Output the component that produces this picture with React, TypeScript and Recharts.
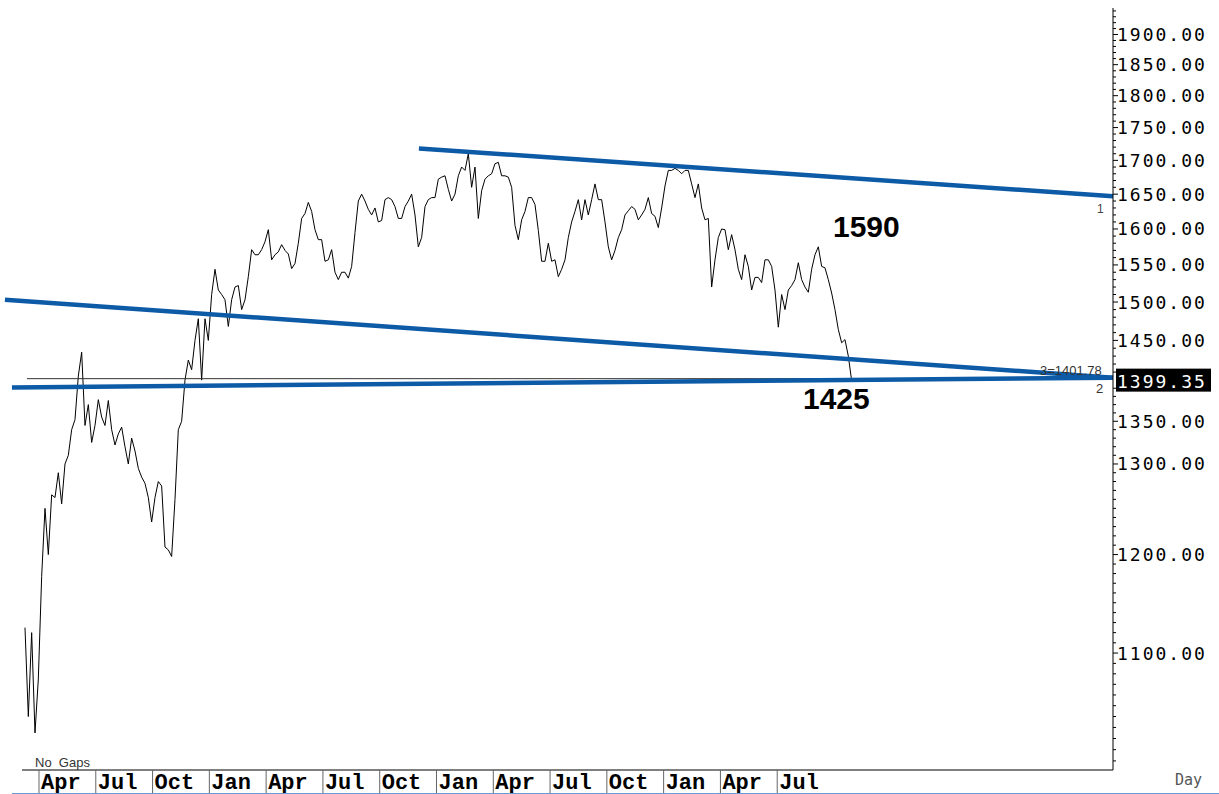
import React from 'react';
import { LineChart, Line, XAxis, YAxis, ReferenceLine } from 'recharts';

// quarter labels along the bottom, one every 3 months from the first April
const MONTHS = ['Apr', 'Jul', 'Oct', 'Jan', 'Apr', 'Jul', 'Oct', 'Jan', 'Apr', 'Jul', 'Oct', 'Jan', 'Apr', 'Jul'];
const MONTH_POS = MONTHS.map((_, i) => i * 3);

const PRICE_LABELS = [1100, 1200, 1300, 1350, 1450, 1500, 1550, 1600, 1650, 1700, 1750, 1800, 1850, 1900];

// closes, sampled about every 0.176 month, starting mid-March
const FIRST_MONTH = -0.74;
const MONTH_STEP = 0.1761;
const CLOSES = [
  1125, 1040, 1120, 1025, 1075, 1177, 1250, 1200, 1265, 1262, 1290, 1255,
  1300, 1310, 1340, 1352, 1405, 1435, 1345, 1370, 1325, 1345, 1376, 1355,
  1345, 1375, 1340, 1322, 1335, 1343, 1320, 1300, 1330, 1315, 1295, 1285,
  1278, 1262, 1235, 1262, 1280, 1275, 1208, 1205, 1198, 1260, 1340, 1350,
  1400, 1425, 1413, 1450, 1478, 1400, 1478, 1450, 1510, 1544, 1516, 1510,
  1503, 1468, 1503, 1520, 1522, 1490, 1503, 1534, 1571, 1564, 1564, 1571,
  1582, 1599, 1557, 1564, 1568, 1578, 1570, 1565, 1545, 1552, 1580, 1615,
  1622, 1638, 1625, 1599, 1585, 1585, 1555, 1557, 1571, 1540, 1530, 1540,
  1540, 1532, 1548, 1595, 1640, 1650, 1640, 1628, 1620, 1630, 1610, 1612,
  1642, 1645, 1642, 1632, 1615, 1615, 1632, 1640, 1650, 1620, 1575, 1588,
  1632, 1642, 1645, 1645, 1672, 1675, 1677, 1657, 1640, 1650, 1677, 1690,
  1685, 1710, 1660, 1690, 1615, 1655, 1672, 1677, 1680, 1695, 1697, 1677,
  1677, 1675, 1660, 1605, 1585, 1613, 1625, 1645, 1645, 1635, 1598, 1555,
  1555, 1580, 1555, 1557, 1534, 1544, 1557, 1588, 1610, 1625, 1642, 1613,
  1642, 1620, 1642, 1665, 1642, 1642, 1610, 1575, 1557, 1570, 1588, 1599,
  1620, 1626, 1632, 1628, 1613, 1620, 1628, 1645, 1622, 1618, 1602, 1630,
  1662, 1685, 1685, 1688, 1685, 1680, 1685, 1685, 1665, 1645, 1665, 1630,
  1613, 1615, 1520, 1557, 1588, 1600, 1599, 1571, 1592, 1571, 1544, 1530,
  1564, 1548, 1516, 1533, 1533, 1526, 1557, 1557, 1548, 1516, 1467, 1510,
  1490, 1516, 1522, 1530, 1553, 1530, 1520, 1513, 1544, 1564, 1575, 1548,
  1546, 1530, 1512, 1490, 1464, 1447, 1451, 1430, 1399.35,
];
const LAST = CLOSES[CLOSES.length - 1];

// trend lines (month, price)
const TREND_TOP = [{ x: 20.07, y: 1718 }, { x: 56.74, y: 1647 }];
const TREND_MID = [{ x: -1.8, y: 1503 }, { x: 56.74, y: 1403 }];
const TREND_LOW = [{ x: -1.43, y: 1391 }, { x: 56.74, y: 1403 }];
const LEVEL_3 = 1401.78;

const X_DOMAIN = [-0.898, 56.74];
const Y_DOMAIN = [992, 1945];

const rows = CLOSES.map((v, i) => ({ m: FIRST_MONTH + i * MONTH_STEP, v }));

const minorTicks: number[] = [];
for (let p = 1000; p <= 1940; p += 10) minorTicks.push(p);
const yTicks = [...minorTicks.filter((p) => p !== 1400), LAST];

const MONO = "'DejaVu Sans Mono', monospace";
const SANS = "Arial, 'Liberation Sans', sans-serif";

const MonthTick = (props: any) => {
  const { x, y, payload } = props;
  const label = MONTHS[MONTH_POS.indexOf(payload.value)];
  return (
    <g>
      <line x1={x} x2={x} y1={y} y2={y + 24} stroke="#666" strokeWidth={1} />
      <text
        x={x + 2}
        y={y + 19}
        fontFamily="'Courier New', 'Liberation Mono', monospace"
        fontWeight="bold"
        fontSize={22}
        fill="#000"
      >
        {label}
      </text>
    </g>
  );
};

const PriceTick = (props: any) => {
  const { x, y, payload } = props;
  const v = payload.value;
  if (v === LAST) {
    return (
      <g>
        <rect x={x + 3} y={y - 12} width={95} height={23} fill="#000" />
        <text x={x + 4} y={y + 7} fill="#fff" fontFamily={MONO} fontSize={18} letterSpacing={2}>
          {v.toFixed(2)}
        </text>
      </g>
    );
  }
  const major = PRICE_LABELS.includes(v);
  return (
    <g>
      <line x1={x} x2={x + (major ? 5 : 3)} y1={y} y2={y} stroke="#000" strokeWidth={1} />
      {major && (
        <text x={x + 4} y={y + 6.5} fill="#000" fontFamily={MONO} fontSize={18} letterSpacing={2}>
          {v.toFixed(2)}
        </text>
      )}
    </g>
  );
};

const BLUE = '#0d5aa7';

export default function App() {
  return (
    <div style={{ position: 'absolute', left: 0, top: 0, width: 1219, height: 794, background: '#fff' }}>
      <LineChart width={1219} height={794} data={rows} margin={{ top: 8, right: 0, bottom: 0, left: 22 }}>
        <XAxis
          dataKey="m"
          type="number"
          domain={X_DOMAIN}
          allowDataOverflow
          ticks={MONTH_POS}
          interval={0}
          tickSize={0}
          tickMargin={0}
          height={24}
          axisLine={{ stroke: '#000' }}
          tick={<MonthTick />}
        />
        <YAxis
          orientation="right"
          type="number"
          scale="log"
          domain={Y_DOMAIN}
          allowDataOverflow
          ticks={yTicks}
          interval={0}
          tickSize={0}
          tickMargin={0}
          width={106}
          axisLine={{ stroke: '#000' }}
          tick={<PriceTick />}
        />
        <Line
          type="linear"
          dataKey="v"
          stroke="#000"
          strokeWidth={1}
          dot={false}
          isAnimationActive={false}
        />
        <ReferenceLine segment={[{ x: -0.634, y: LEVEL_3 }, { x: 56.74, y: LEVEL_3 }]} stroke="#333" strokeWidth={1} ifOverflow="visible" />
        <ReferenceLine segment={TREND_TOP} stroke={BLUE} strokeWidth={4.5} ifOverflow="visible" />
        <ReferenceLine segment={TREND_MID} stroke={BLUE} strokeWidth={4.5} ifOverflow="visible" />
        <ReferenceLine segment={TREND_LOW} stroke={BLUE} strokeWidth={4.5} ifOverflow="visible" />
      </LineChart>
      <svg width={1219} height={794} style={{ position: 'absolute', left: 0, top: 0, pointerEvents: 'none' }}>
        <text x={833} y={237} fontFamily={SANS} fontWeight="bold" fontSize={30} fill="#000">1590</text>
        <text x={803} y={409} fontFamily={SANS} fontWeight="bold" fontSize={30} fill="#000">1425</text>
        <text x={35} y={767} fontFamily={SANS} fontSize={13} fill="#333" style={{ whiteSpace: 'pre' }}>No  Gaps</text>
        <text x={1175} y={785} fontFamily={MONO} fontSize={15} fill="#555">Day</text>
        <text x={1097} y={213} fontFamily={SANS} fontSize={12} fill="#444">1</text>
        <text x={1040} y={375} fontFamily={SANS} fontSize={13} fill="#333">3=1401.78</text>
        <text x={1096} y={393} fontFamily={SANS} fontSize={13} fill="#333">2</text>
        <line x1={12} x2={1219} y1={793.5} y2={793.5} stroke="#6a9ad6" strokeWidth={1} />
      </svg>
    </div>
  );
}
